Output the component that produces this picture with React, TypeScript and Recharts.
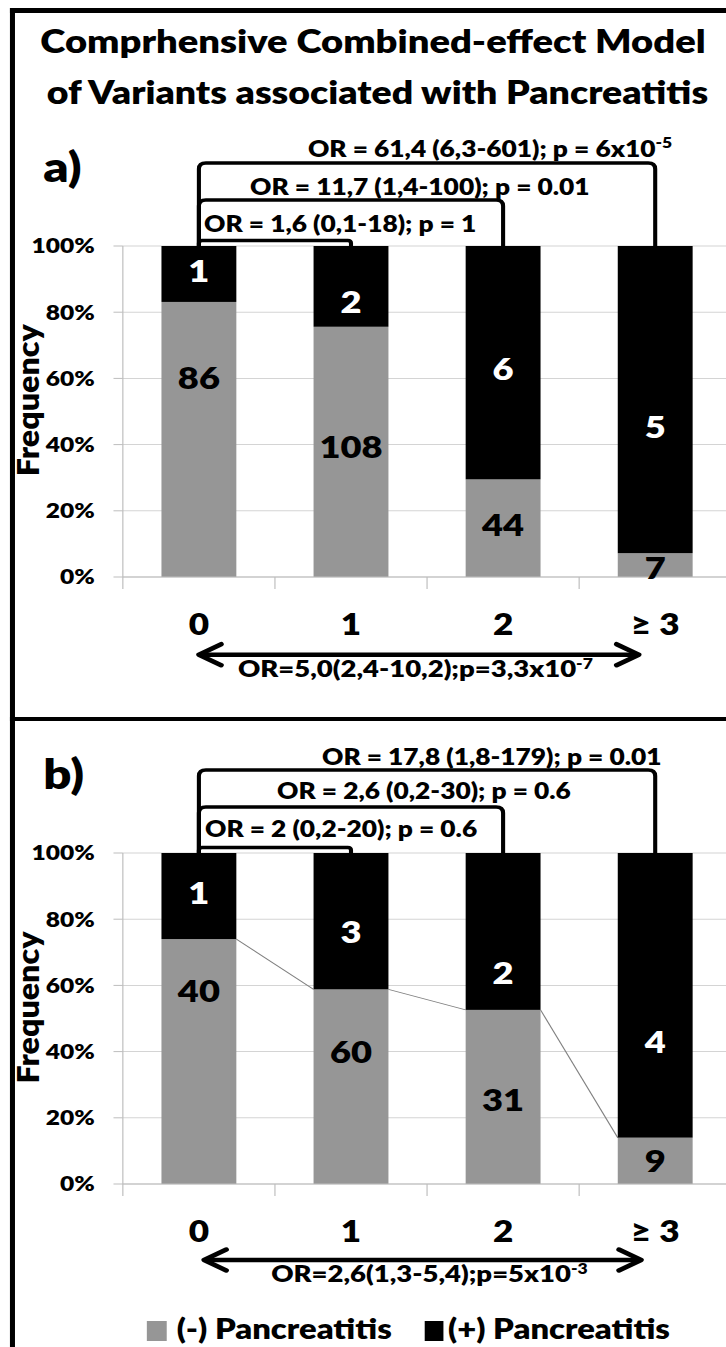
import React from "react";
import { Bar, BarChart, CartesianGrid, LabelList, XAxis, YAxis } from "recharts";

const FONT = "Lato, 'Open Sans', sans-serif";
const WEIGHT = 800;
const GRAY = "#969696";
const GRID = "#d4d4d4";
const AXIS = "#bdbdbd";

// the source figure is widened horizontally, so the whole drawing is stretched
const SX = 1.17;

const CATEGORIES = ["0", "1", "2", "≥ 3"];
const SERIES = ["(-) Pancreatitis", "(+) Pancreatitis"];
const Y_TICKS = [0, 0.2, 0.4, 0.6, 0.8, 1];

// a) frequency of (-) pancreatitis in %, and the counts printed on the bars
const A_NEG_PCT = [83.1, 75.6, 29.5, 7.2];
const A_NEG_N = [86, 108, 44, 7];
const A_POS_N = [1, 2, 6, 5];
const A_PAIR = [
  "OR = 1,6 (0,1-18); p = 1",
  "OR = 11,7 (1,4-100); p = 0.01",
  "OR = 61,4 (6,3-601); p = 6x10",
];
const A_PAIR_EXP = ["", "", "-5"];
const A_TREND = "OR=5,0(2,4-10,2);p=3,3x10";
const A_TREND_EXP = "-7";

// b)
const B_NEG_PCT = [74.0, 58.8, 52.6, 14.0];
const B_NEG_N = [40, 60, 31, 9];
const B_POS_N = [1, 3, 2, 4];
const B_PAIR = [
  "OR = 2 (0,2-20); p = 0.6",
  "OR = 2,6 (0,2-30); p = 0.6",
  "OR = 17,8 (1,8-179); p = 0.01",
];
const B_PAIR_EXP = ["", "", ""];
const B_TREND = "OR=2,6(1,3-5,4);p=5x10";
const B_TREND_EXP = "-3";

// layout (unstretched px)
const Y_AXIS_W = 105;
const BAND = 130;
const GAP = 33;
const CHART_W = Y_AXIS_W + BAND * CATEGORIES.length;
const TOP_ROOM = 110;
const PLOT_H = 331;
const X_AXIS_H = 70;
const CHART_H = TOP_ROOM + PLOT_H + X_AXIS_H;
const BRACKET_RISE = [5.5, 46, 83];

const A_TOP = 245.7;
const B_TOP = 853;

// hand placed label offsets, as in the source figure
const A_NEG_NUDGE = [-62, -5, -3, 3];
const A_POS_NUDGE = [-3, 15, 6, 27];
const B_NEG_NUDGE = [-71, -35, 3, 0];
const B_POS_NUDGE = [-3, 11, 41, 47];

const A_PAIR_POS = [[174.4, -13.7], [213.7, -50.7], [263.2, -88.7]];
const B_PAIR_POS = [[175.2, -16], [236.8, -54], [275.2, -88]];

function CategoryTick(props: any) {
  const { x, y, payload } = props;
  const half = payload?.offset ?? BAND / 2;
  return (
    <g>
      <line x1={x - half} y1={y} x2={x - half} y2={y + 12} stroke={AXIS} />
      <text
        x={x}
        y={y + 58}
        textAnchor="middle"
        fontSize={30}
        fontWeight={WEIGHT}
        fontFamily={FONT}
        fill="#000"
      >
        {payload.value}
      </text>
    </g>
  );
}

const countLabel = (counts: number[], nudges: number[], color: string) => (props: any) => {
  const vb = props.viewBox ?? props;
  const x = props.x ?? vb.x;
  const y = props.y ?? vb.y;
  const w = props.width ?? vb.width;
  const h = props.height ?? vb.height;
  const i = props.index;
  return (
    <text
      x={x + w / 2}
      y={y + h / 2 + nudges[i]}
      dy="0.36em"
      textAnchor="middle"
      fontSize={31}
      fontWeight={WEIGHT}
      fontFamily={FONT}
      fill={color}
    >
      {counts[i]}
    </text>
  );
};

interface PanelProps {
  top: number;
  negPct: number[];
  negN: number[];
  posN: number[];
  negNudge: number[];
  posNudge: number[];
  seriesLines: boolean;
}

function Panel({ top, negPct, negN, posN, negNudge, posNudge, seriesLines }: PanelProps) {
  const rows = CATEGORIES.map((cat, i) => ({ cat, neg: negPct[i], pos: 100 - negPct[i] }));

  const negShape = (p: any) => {
    const { x, y, width, height, index, fill } = p;
    let line = null;
    if (seriesLines && index < rows.length - 1 && height > 0) {
      const plotH = height / (rows[index].neg / 100);
      const nextTop = y + height - (plotH * rows[index + 1].neg) / 100;
      line = (
        <line
          x1={x + width}
          y1={y}
          x2={x + width + 2 * GAP}
          y2={nextTop}
          stroke="#808080"
          strokeWidth={1}
        />
      );
    }
    return (
      <g>
        <rect x={x} y={y} width={width} height={height} fill={fill} />
        {line}
      </g>
    );
  };

  // black bar k also carries the bracket that links it to category 0
  const posShape = (p: any) => {
    const { x, y, width, height, index, fill } = p;
    let bracket = null;
    if (index > 0) {
      const cxK = x + width / 2;
      const cx0 = cxK - index * (width + 2 * GAP);
      const lv = y - BRACKET_RISE[index - 1];
      const r = Math.min(6, BRACKET_RISE[index - 1] / 2);
      bracket = (
        <path
          d={`M${cx0},${y} V${lv + r} Q${cx0},${lv} ${cx0 + r},${lv} H${cxK - r} Q${cxK},${lv} ${cxK},${lv + r} V${y}`}
          fill="none"
          stroke="#000"
          strokeWidth={3.5}
        />
      );
    }
    return (
      <g>
        <rect x={x} y={y} width={width} height={height} fill={fill} />
        {bracket}
      </g>
    );
  };

  return (
    <div style={{ position: "absolute", left: 0, top: top - TOP_ROOM }}>
      <BarChart
        width={CHART_W}
        height={CHART_H}
        data={rows}
        stackOffset="expand"
        barCategoryGap={GAP}
        margin={{ top: TOP_ROOM, right: 0, bottom: 0, left: 0 }}
      >
        <CartesianGrid vertical={false} stroke={GRID} />
        <XAxis
          dataKey="cat"
          height={X_AXIS_H}
          tickSize={0}
          tickMargin={0}
          tickLine={false}
          axisLine={{ stroke: AXIS }}
          interval={0}
          tick={(t: any) => <CategoryTick {...t} />}
        />
        <YAxis
          type="number"
          width={Y_AXIS_W}
          domain={[0, 1]}
          ticks={Y_TICKS}
          tickFormatter={(v: number) => `${Math.round(v * 100)}%`}
          tickSize={8}
          tickMargin={16}
          tickLine={{ stroke: AXIS }}
          axisLine={{ stroke: AXIS }}
          tick={{ fill: "#000", fontSize: 21, fontWeight: WEIGHT, fontFamily: FONT }}
        />
        <Bar
          dataKey="neg"
          name={SERIES[0]}
          stackId="s"
          fill={GRAY}
          shape={negShape}
          isAnimationActive={false}
        >
          <LabelList dataKey="neg" content={countLabel(negN, negNudge, "#000")} />
        </Bar>
        <Bar
          dataKey="pos"
          name={SERIES[1]}
          stackId="s"
          fill="#000"
          shape={posShape}
          isAnimationActive={false}
        >
          <LabelList dataKey="pos" content={countLabel(posN, posNudge, "#fff")} />
        </Bar>
      </BarChart>
    </div>
  );
}

function Arrow({ x1, x2, y }: { x1: number; x2: number; y: number }) {
  const hl = 19;
  const hh = 10.5;
  return (
    <g fill="none" stroke="#000" strokeWidth={4.5} strokeLinecap="round" strokeLinejoin="round">
      <line x1={x1 + 2} y1={y} x2={x2 - 2} y2={y} />
      <polyline points={`${x1 + hl},${y - hh} ${x1},${y} ${x1 + hl},${y + hh}`} />
      <polyline points={`${x2 - hl},${y - hh} ${x2},${y} ${x2 - hl},${y + hh}`} />
    </g>
  );
}

function PanelNotes({
  top,
  bottom,
  tag,
  pair,
  pairExp,
  pairPos,
  trend,
  trendExp,
  arrow,
  trendX,
}: {
  top: number;
  bottom: number;
  tag: string;
  pair: string[];
  pairExp: string[];
  pairPos: number[][];
  trend: string;
  trendExp: string;
  arrow: number[];
  trendX: number;
}) {
  const mid = (top + bottom) / 2 - 11;
  return (
    <g fontFamily={FONT} fontWeight={WEIGHT} fill="#000">
      <text x={37} y={top - 64} fontSize={42}>
        {tag}
      </text>
      <text
        x={33}
        y={mid}
        fontSize={25}
        textAnchor="middle"
        textLength={152}
        lengthAdjust="spacingAndGlyphs"
        transform={`rotate(-90 33 ${mid})`}
      >
        Frequency
      </text>
      {pair.map((t, i) => (
        <text key={t} x={pairPos[i][0]} y={top + pairPos[i][1]} fontSize={22.5}>
          {t}
          {pairExp[i] && (
            <tspan dy={-9} fontSize={15}>
              {pairExp[i]}
            </tspan>
          )}
        </text>
      ))}
      <Arrow x1={arrow[0]} x2={arrow[1]} y={bottom + arrow[2]} />
      <text x={trendX} y={bottom + arrow[2] + 22} fontSize={23.5} textAnchor="middle">
        {trend}
        <tspan dy={-8} fontSize={15}>
          {trendExp}
        </tspan>
      </text>
    </g>
  );
}

export default function App() {
  const innerW = 726 / SX + 10;
  return (
    <div
      style={{
        position: "absolute",
        left: 0,
        top: 0,
        width: 726,
        height: 1347,
        overflow: "hidden",
        background: "#fff",
        fontFamily: FONT,
      }}
    >
      <div
        style={{
          position: "absolute",
          left: 0,
          top: 0,
          width: innerW,
          height: 1347,
          transform: `scaleX(${SX})`,
          transformOrigin: "0 0",
        }}
      >
        <Panel
          top={A_TOP}
          negPct={A_NEG_PCT}
          negN={A_NEG_N}
          posN={A_POS_N}
          negNudge={A_NEG_NUDGE}
          posNudge={A_POS_NUDGE}
          seriesLines={false}
        />
        <Panel
          top={B_TOP}
          negPct={B_NEG_PCT}
          negN={B_NEG_N}
          posN={B_POS_N}
          negNudge={B_NEG_NUDGE}
          posNudge={B_POS_NUDGE}
          seriesLines={true}
        />
        <svg
          width={innerW}
          height={1347}
          style={{ position: "absolute", left: 0, top: 0, pointerEvents: "none" }}
        >
          <rect x={8.5} y={8} width={innerW} height={5} fill="#000" />
          <rect x={8.5} y={8} width={4.3} height={1347} fill="#000" />
          <rect x={8.5} y={717} width={innerW} height={4} fill="#000" />
          <g fontFamily={FONT} fontWeight={WEIGHT} textAnchor="middle" fill="#000">
            <text x={318.8} y={53} fontSize={32.6}>
              Comprhensive Combined-effect Model
            </text>
            <text x={322.6} y={104} fontSize={32}>
              of Variants associated with Pancreatitis
            </text>
          </g>
          <PanelNotes
            top={A_TOP}
            bottom={A_TOP + PLOT_H}
            tag="a)"
            pair={A_PAIR}
            pairExp={A_PAIR_EXP}
            pairPos={A_PAIR_POS}
            trend={A_TREND}
            trendExp={A_TREND_EXP}
            arrow={[170, 546, 78]}
            trendX={355}
          />
          <PanelNotes
            top={B_TOP}
            bottom={B_TOP + PLOT_H}
            tag="b)"
            pair={B_PAIR}
            pairExp={B_PAIR_EXP}
            pairPos={B_PAIR_POS}
            trend={B_TREND}
            trendExp={B_TREND_EXP}
            arrow={[174.4, 548, 76]}
            trendX={367}
          />
          <g fontFamily={FONT} fontWeight={WEIGHT} fontSize={28} fill="#000">
            <rect x={125.5} y={1321} width={17} height={20} fill={GRAY} />
            <text x={151} y={1339}>
              {SERIES[0]}
            </text>
            <rect x={363} y={1321} width={16} height={20} fill="#000" />
            <text x={383} y={1339}>
              {SERIES[1]}
            </text>
          </g>
        </svg>
      </div>
    </div>
  );
}
